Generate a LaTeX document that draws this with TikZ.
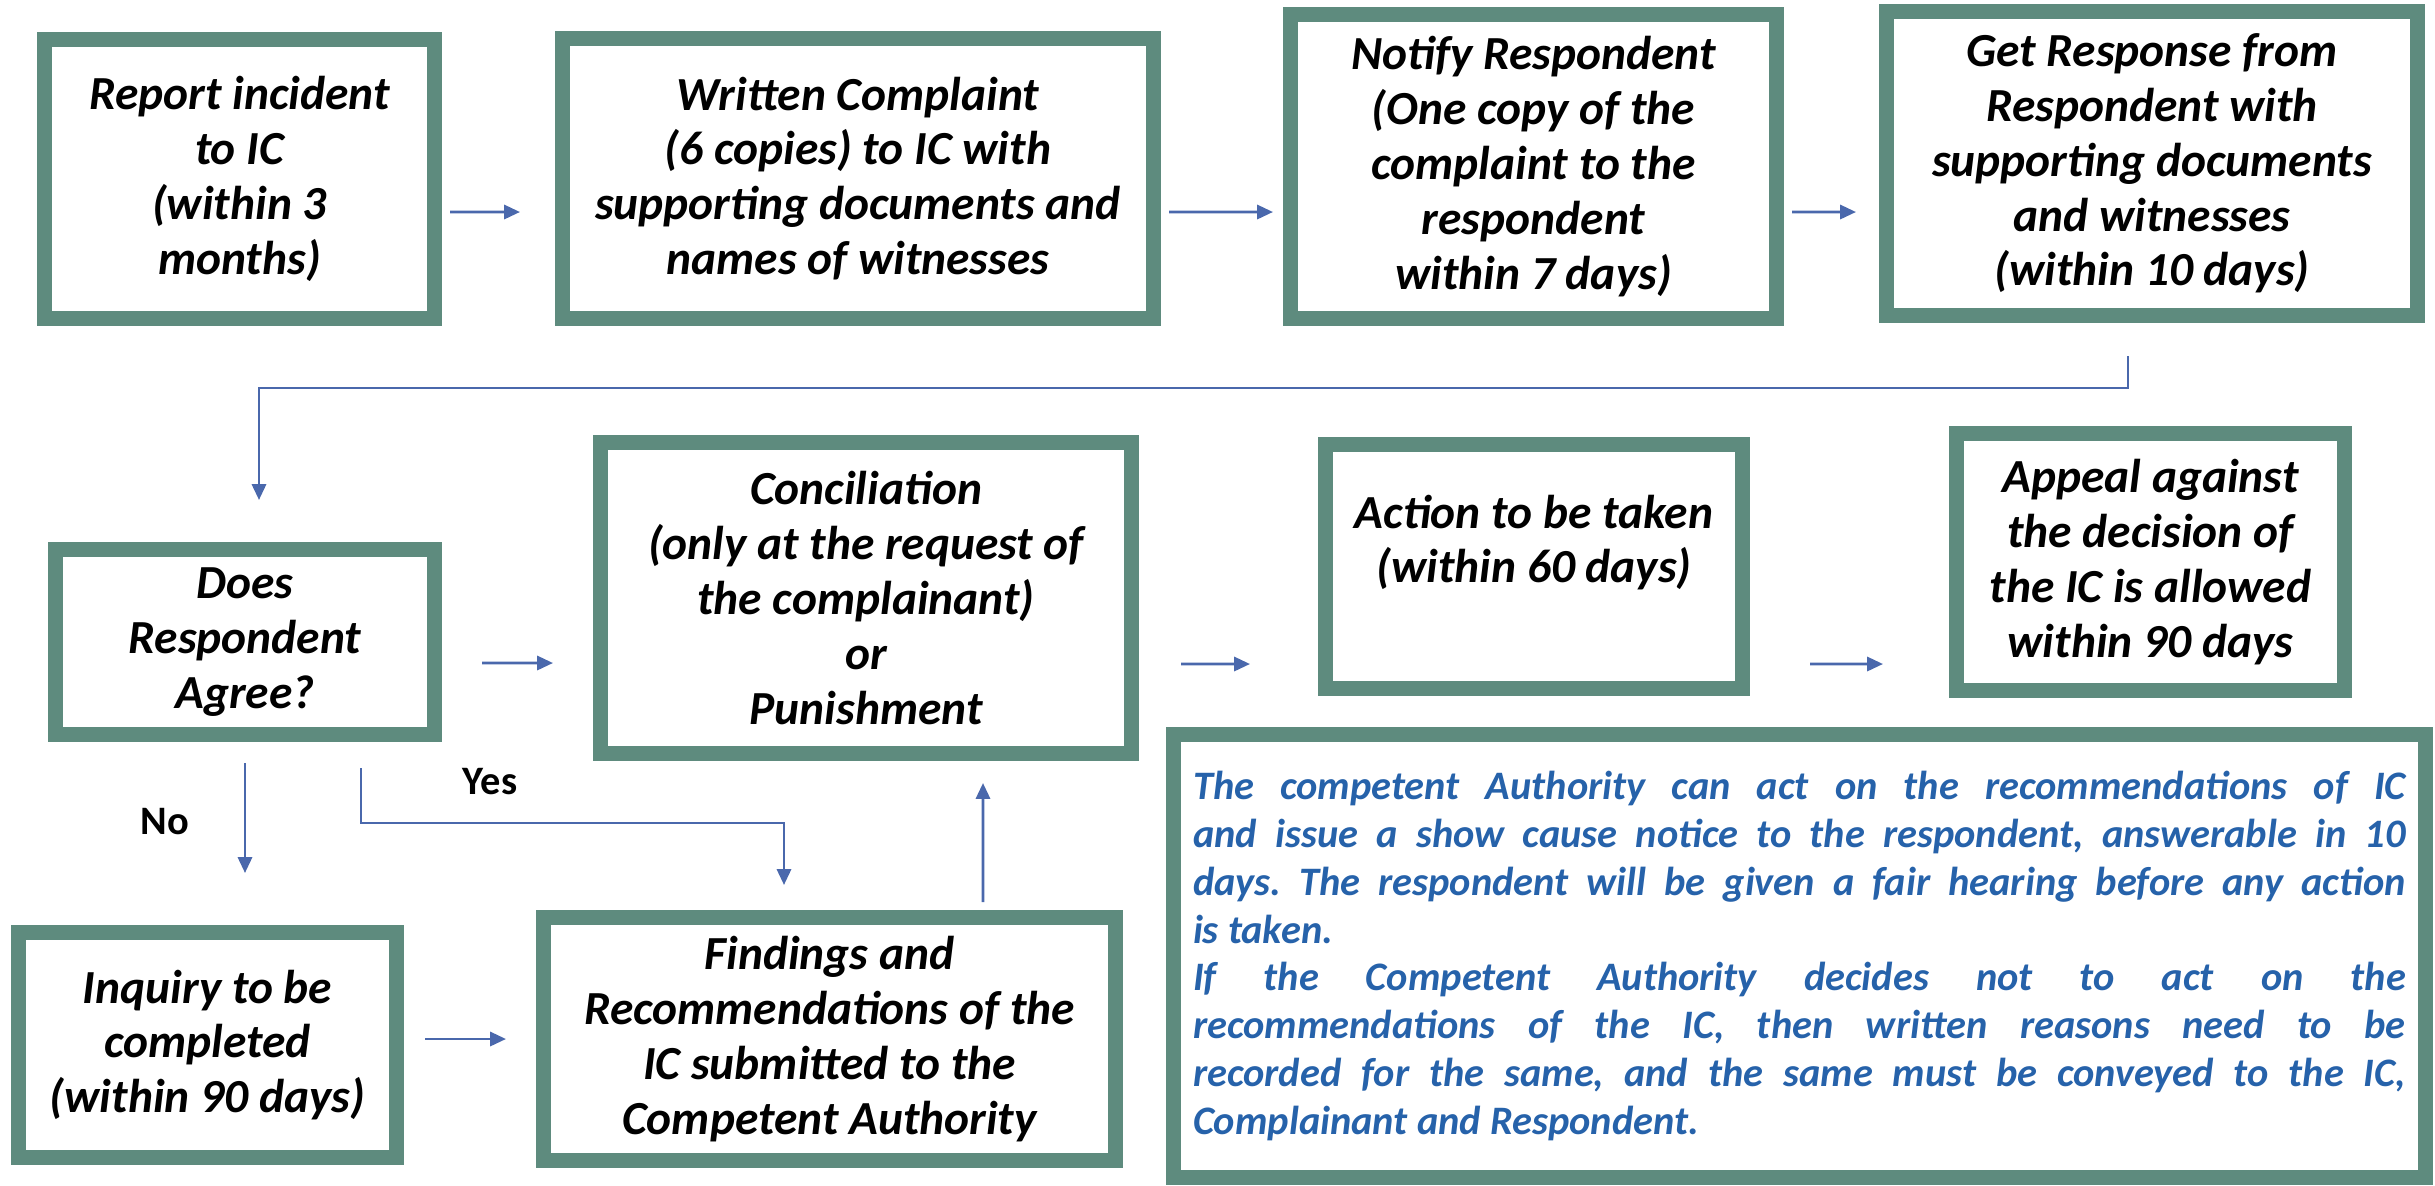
\documentclass[tikz,border=0pt]{standalone}
\usepackage{fontspec}
\setmainfont{Carlito}
\usetikzlibrary{arrows.meta}
\definecolor{boxgreen}{RGB}{94,139,126}
\definecolor{flowblue}{RGB}{74,104,172}
\definecolor{noteblue}{RGB}{38,98,170}

\begin{document}
\begin{tikzpicture}[
        box/.style={draw=boxgreen, line width=0.15cm, fill=white, inner sep=0pt},
        boxtext/.style={align=center, font=\fontsize{13.5}{15.6}\selectfont\bfseries\itshape},
        flow/.style={draw=flowblue, line width=0.8pt, -{Triangle[length=4.5pt,width=4pt]}},
        tag/.style={font=\fontsize{11.5}{13}\selectfont\bfseries}
    ]
        % Canvas
        \useasboundingbox (0,0) rectangle (24.35,-11.85);

        % Top row
        \node[box, boxtext, minimum width=3.90cm, minimum height=2.79cm] (report) at (2.395,-1.79)
            {Report incident\\to IC\\(within 3\\months)};
        \node[box, boxtext, minimum width=5.91cm, minimum height=2.80cm] (written) at (8.58,-1.785)
            {Written Complaint\\(6 copies) to IC with\\supporting documents and\\names of witnesses};
        \node[box, boxtext, minimum width=4.86cm, minimum height=3.04cm] (notify) at (15.335,-1.665)
            {Notify Respondent\\(One copy of the\\complaint to the\\respondent\\within 7 days)};
        \node[box, boxtext, minimum width=5.31cm, minimum height=3.04cm] (response) at (21.52,-1.635)
            {Get Response from\\Respondent with\\supporting documents\\and witnesses\\(within 10 days)};

        % Middle row
        \node[box, boxtext, minimum width=3.79cm, minimum height=1.85cm] (agree) at (2.45,-6.42)
            {Does\\Respondent\\Agree?};
        \node[box, boxtext, minimum width=5.31cm, minimum height=3.11cm] (concil) at (8.66,-5.98)
            {Conciliation\\(only at the request of\\the complainant)\\or\\Punishment};
        \node[box, minimum width=4.17cm, minimum height=2.44cm] (action) at (15.34,-5.665) {};
        \node[boxtext] (actiontext) at ([yshift=0.24cm]action.center)
            {Action to be taken\\(within 60 days)};
        \node[box, boxtext, minimum width=3.88cm, minimum height=2.57cm] (appeal) at (21.505,-5.62)
            {Appeal against\\the decision of\\the IC is allowed\\within 90 days};

        % Bottom row
        \node[box, boxtext, minimum width=3.78cm, minimum height=2.25cm] (inquiry) at (2.075,-10.45)
            {Inquiry to be\\completed\\(within 90 days)};
        \node[box, boxtext, minimum width=5.72cm, minimum height=2.43cm] (findings) at (8.295,-10.39)
            {Findings and\\Recommendations of the\\IC submitted to the\\Competent Authority};

        % Note
        \node[box, minimum width=12.52cm, minimum height=4.43cm, text width=12.13cm, align=justify,
              text=noteblue, font=\fontsize{11.5}{13.6}\selectfont\bfseries\itshape] (note) at (17.995,-9.56)
            {\hyphenpenalty=10000\frenchspacing
             The competent Authority can act on the recommendations of IC\linebreak
             and issue a show cause notice to the respondent, answerable in 10\linebreak
             days. The respondent will be given a fair hearing before any action\linebreak
             is taken.\\
             If the Competent Authority decides not to act on the\linebreak
             recommendations of the IC, then written reasons need to be\linebreak
             recorded for the same, and the same must be conveyed to the IC,\linebreak
             Complainant and Respondent.};

        % Labels
        \node[tag] (no) at (1.65,-8.22) {No};
        \node[tag] (yes) at (4.90,-7.82) {Yes};

        % Flow
        \draw[flow] ([xshift=0.08cm,yshift=-0.33cm]report.east) -- ([xshift=-0.35cm,yshift=-0.335cm]written.west);
        \draw[flow] ([xshift=0.08cm,yshift=-0.335cm]written.east) -- ([xshift=-0.10cm,yshift=-0.455cm]notify.west);
        \draw[flow] ([xshift=0.08cm,yshift=-0.455cm]notify.east) -- ([xshift=-0.23cm,yshift=-0.485cm]response.west);
        \draw[flow] ([xshift=-0.24cm,yshift=-0.33cm]response.south) -- ++(0,-0.32) -| ([xshift=0.14cm,yshift=0.42cm]agree.north);
        \draw[flow] ([xshift=0.40cm,yshift=-0.21cm]agree.east) -- ([xshift=-0.40cm,yshift=-0.65cm]concil.west);
        \draw[flow] ([xshift=0.42cm,yshift=-0.66cm]concil.east) -- ([xshift=-0.68cm,yshift=-0.975cm]action.west);
        \draw[flow] ([xshift=0.60cm,yshift=-0.975cm]action.east) -- ([xshift=-0.66cm,yshift=-1.02cm]appeal.west);
        \draw[flow] ([yshift=-0.21cm]agree.south) -- ([xshift=0.375cm,yshift=0.52cm]inquiry.north);
        \draw[flow] ([xshift=1.16cm,yshift=-0.26cm]agree.south) -- ++(0,-0.55) -| ([xshift=-0.455cm,yshift=0.25cm]findings.north);
        \draw[flow] ([xshift=1.535cm,yshift=0.08cm]findings.north) -- ([xshift=1.17cm,yshift=-0.22cm]concil.south);
        \draw[flow] ([xshift=0.21cm,yshift=0.06cm]inquiry.east) -- ([xshift=-0.30cm]findings.west);
    \end{tikzpicture}
\end{document}
